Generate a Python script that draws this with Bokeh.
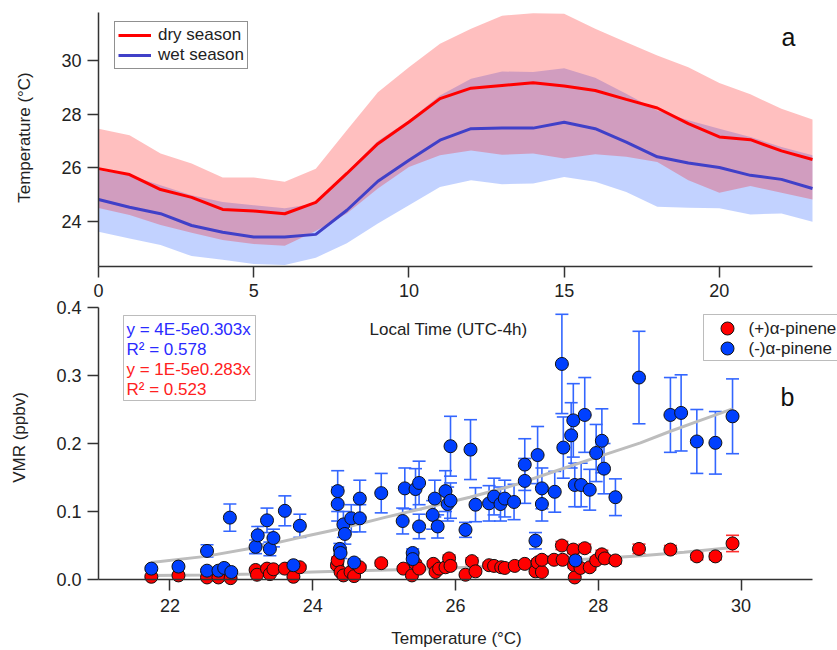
import math
from bokeh.plotting import figure
from bokeh.models import (Range1d, LinearAxis, FixedTicker, ColumnDataSource, Whisker,
                          TeeHead, Legend, LegendItem, Label, BoxAnnotation, NumeralTickFormatter)
from bokeh.embed import file_html
from bokeh.resources import INLINE

# ---------------- data: panel a (diurnal temperature) ----------------
hours = list(range(24))
dry_mean = [25.97, 25.75, 25.19, 24.90, 24.45, 24.39, 24.29, 24.71, 25.79, 26.90, 27.71, 28.58,
            28.97, 29.07, 29.17, 29.05, 28.88, 28.55, 28.23, 27.65, 27.15, 27.05, 26.63, 26.31]
dry_upper = [27.46, 27.21, 26.53, 26.16, 25.64, 25.64, 25.48, 25.97, 27.40, 28.82, 29.75, 30.62,
             31.18, 31.67, 31.76, 31.74, 31.18, 30.68, 30.19, 29.75, 29.16, 28.74, 28.20, 27.80]
dry_lower = [24.50, 24.24, 23.87, 23.58, 23.31, 23.16, 23.10, 23.65, 24.30, 25.23, 26.03, 26.47,
             26.65, 26.49, 26.53, 26.35, 26.51, 26.41, 26.22, 25.54, 25.07, 25.32, 25.07, 24.82]
wet_mean = [24.82, 24.53, 24.29, 23.85, 23.60, 23.42, 23.42, 23.52, 24.42, 25.50, 26.28, 27.03,
            27.46, 27.48, 27.48, 27.70, 27.46, 26.96, 26.41, 26.18, 26.01, 25.72, 25.57, 25.23]
wet_upper = [25.91, 25.72, 25.35, 24.98, 24.73, 24.61, 24.49, 24.67, 25.85, 27.00, 27.77, 28.70,
             29.32, 29.59, 29.57, 29.71, 29.36, 28.76, 28.14, 27.77, 27.46, 27.15, 26.78, 26.47]
wet_lower = [23.62, 23.37, 23.12, 22.71, 22.57, 22.42, 22.38, 22.65, 23.19, 23.93, 24.61, 25.29,
             25.54, 25.39, 25.42, 25.66, 25.48, 25.10, 24.55, 24.51, 24.49, 24.26, 24.30, 23.99]

# ---------------- data: panel b (VMR vs temperature) ----------------
minus_T = [21.74, 22.12, 22.52, 22.52, 22.68, 22.76, 22.84, 22.86, 23.20, 23.23, 23.36, 23.40,
           23.45, 23.61, 23.73, 23.82, 24.35, 24.35, 24.38, 24.39, 24.43, 24.45, 24.54, 24.58,
           24.66, 24.66, 24.96, 25.26, 25.29, 25.40, 25.40, 25.44, 25.49, 25.49, 25.68, 25.71,
           25.75, 25.86, 25.89, 25.93, 25.93, 26.14, 26.21, 26.28, 26.47, 26.54, 26.63, 26.69,
           26.82, 26.97, 26.97, 27.12, 27.15, 27.21, 27.21, 27.39, 27.49, 27.51, 27.62, 27.65,
           27.67, 27.68, 27.76, 27.81, 27.88, 27.97, 28.05, 28.08, 28.24, 28.57, 29.01, 29.16,
           29.38, 29.64, 29.88]
minus_vmr = [0.016, 0.019, 0.042, 0.013, 0.013, 0.017, 0.091, 0.011, 0.048, 0.065, 0.087, 0.045,
             0.061, 0.101, 0.021, 0.079, 0.130, 0.111, 0.045, 0.039, 0.081, 0.067, 0.090, 0.025,
             0.090, 0.119, 0.127, 0.086, 0.134, 0.039, 0.030, 0.133, 0.142, 0.078, 0.095, 0.119,
             0.078, 0.130, 0.111, 0.116, 0.196, 0.073, 0.191, 0.110, 0.112, 0.122, 0.111, 0.119,
             0.114, 0.169, 0.145, 0.057, 0.183, 0.134, 0.111, 0.129, 0.317, 0.194, 0.212, 0.234,
             0.139, 0.028, 0.139, 0.242, 0.132, 0.186, 0.204, 0.163, 0.121, 0.297, 0.242, 0.245,
             0.203, 0.201, 0.240]
minus_err = [0.002, 0.002, 0.009, 0.002, 0.002, 0.002, 0.020, 0.002, 0.010, 0.013, 0.018, 0.010,
             0.013, 0.022, 0.003, 0.017, 0.030, 0.025, 0.008, 0.008, 0.019, 0.015, 0.020, 0.005,
             0.020, 0.027, 0.029, 0.019, 0.030, 0.006, 0.005, 0.030, 0.032, 0.018, 0.021, 0.027,
             0.017, 0.030, 0.025, 0.026, 0.044, 0.011, 0.044, 0.025, 0.026, 0.027, 0.025, 0.027,
             0.026, 0.038, 0.033, 0.012, 0.042, 0.030, 0.025, 0.030, 0.073, 0.045, 0.048, 0.054,
             0.032, 0.005, 0.032, 0.055, 0.030, 0.042, 0.047, 0.037, 0.027, 0.068, 0.055, 0.056,
             0.047, 0.046, 0.055]

plus_T = [21.74, 22.12, 22.52, 22.68, 22.85, 23.20, 23.22, 23.36, 23.40, 23.45, 23.61, 23.73,
          23.82, 24.34, 24.35, 24.39, 24.43, 24.53, 24.58, 24.66, 24.96, 25.27, 25.39, 25.44,
          25.49, 25.69, 25.72, 25.77, 25.86, 25.91, 25.93, 26.14, 26.23, 26.28, 26.47, 26.54,
          26.64, 26.69, 26.83, 26.97, 27.12, 27.15, 27.21, 27.21, 27.38, 27.49, 27.50, 27.65,
          27.66, 27.67, 27.75, 27.81, 27.88, 27.97, 28.05, 28.09, 28.24, 28.57, 29.01, 29.38,
          29.64, 29.88]
plus_vmr = [0.004, 0.006, 0.003, 0.003, 0.002, 0.014, 0.007, 0.016, 0.008, 0.015, 0.016, 0.004,
            0.018, 0.021, 0.028, 0.011, 0.006, 0.011, 0.005, 0.018, 0.024, 0.016, 0.006, 0.023,
            0.016, 0.023, 0.011, 0.016, 0.018, 0.031, 0.020, 0.007, 0.027, 0.012, 0.021, 0.020,
            0.018, 0.017, 0.020, 0.023, 0.012, 0.025, 0.011, 0.029, 0.029, 0.050, 0.029, 0.044,
            0.021, 0.003, 0.017, 0.046, 0.018, 0.028, 0.037, 0.031, 0.028, 0.045, 0.044, 0.034,
            0.034, 0.053]
plus_err = [0.002, 0.002, 0.002, 0.002, 0.002, 0.003, 0.002, 0.003, 0.002, 0.003, 0.003, 0.002,
            0.003, 0.004, 0.005, 0.003, 0.002, 0.003, 0.002, 0.003, 0.004, 0.003, 0.002, 0.004,
            0.003, 0.004, 0.003, 0.003, 0.003, 0.005, 0.004, 0.002, 0.005, 0.003, 0.004, 0.004,
            0.003, 0.003, 0.004, 0.004, 0.003, 0.005, 0.003, 0.005, 0.005, 0.006, 0.005, 0.006,
            0.004, 0.002, 0.004, 0.006, 0.004, 0.005, 0.006, 0.005, 0.005, 0.007, 0.006, 0.005,
            0.005, 0.012]

# trend lines as drawn in the original figure
fit_minus_T = [21.74, 22.50, 23.20, 23.83, 24.40, 25.00, 25.60, 26.20, 26.80, 27.33, 27.90, 28.59,
               29.01, 29.40, 29.88]
fit_minus_vmr = [0.025, 0.034, 0.047, 0.062, 0.075, 0.091, 0.106, 0.121, 0.138, 0.157, 0.177,
                 0.201, 0.218, 0.233, 0.251]
fit_plus_T = [21.74, 22.50, 23.20, 24.00, 24.60, 25.20, 25.80, 26.40, 27.00, 27.50, 28.00, 28.60,
              29.20, 29.88]
fit_plus_vmr = [0.006, 0.0065, 0.008, 0.011, 0.013, 0.0145, 0.016, 0.019, 0.023, 0.028, 0.031,
                0.035, 0.040, 0.047]

time_ticks = [0, 5, 10, 15, 20]
temp_ticks = [24, 26, 28, 30]
tempb_ticks = [22, 24, 26, 28, 30]
vmr_ticks = [0.0, 0.1, 0.2, 0.3, 0.4]
series_labels = ["(+)α-pinene", "(-)α-pinene"]

# ---------------- layout geometry (pixels; the frame covers the whole canvas) ----------------
W, H = 837, 650
AXL, AXR = 98, 812                # pixel columns where the axes start / end
Y_VMR0 = 579                      # pixel row of VMR = 0 (panel b x-axis)
Y_TIME_AX = 266                   # pixel row of panel a x-axis
Y_TOP = 12                        # top of panel a y-axis
VMR_PX = 272.0 / 0.4              # px per ppbv
TB_PX = (AXR - AXL) / 10.0        # px per degC (panel b, 21..31)
TH_PX = (AXR - AXL) / 23.0        # px per hour (panel a, 0..23)
TEMP_PX = 161.0 / 6.0             # px per degC (panel a)
Y_TEMP30 = 60                     # pixel row of 30 degC

def dx(px):
    return 21 + (px - AXL) / TB_PX

def dy(py):
    return (Y_VMR0 - py) / VMR_PX

def th(px):
    return (px - AXL) / TH_PX

def tp(py):
    return 30 - (py - Y_TEMP30) / TEMP_PX

FONT = "Liberation Sans"
AX_COLOR = "#333333"
TXT = "#222222"

p = figure(width=W, height=H, output_backend="svg", toolbar_location=None,
           x_range=Range1d(dx(0), dx(W)), y_range=Range1d(dy(H), dy(0)),
           x_axis_location=None, y_axis_location=None,
           min_border_left=0, min_border_right=0, min_border_top=0,
           min_border_bottom=0, outline_line_color=None)
p.grid.visible = False
p.extra_x_ranges = {"time": Range1d(th(0), th(W))}
p.extra_y_ranges = {"temp": Range1d(tp(H), tp(0))}

def style_axis(ax):
    ax.major_label_text_font = FONT
    ax.major_label_text_font_size = "18px"
    ax.major_label_text_color = TXT
    ax.axis_line_color = AX_COLOR
    ax.axis_line_width = 1.5
    ax.major_tick_line_color = AX_COLOR
    ax.major_tick_line_width = 1.5
    ax.major_tick_out = 11
    ax.major_tick_in = 0
    ax.minor_tick_out = 0
    ax.minor_tick_in = 0
    ax.major_label_standoff = 6

# panel b axes
xb = LinearAxis(fixed_location=0, bounds=(21, 31),
                ticker=FixedTicker(ticks=tempb_ticks, minor_ticks=[]))
style_axis(xb)
xb.major_label_standoff = 8
p.add_layout(xb, "below")
yb = LinearAxis(fixed_location=21, bounds=(0, 0.4),
                ticker=FixedTicker(ticks=vmr_ticks, minor_ticks=[]),
                formatter=NumeralTickFormatter(format="0.0"))
style_axis(yb)
p.add_layout(yb, "left")

# panel a axes
xa = LinearAxis(x_range_name="time", y_range_name="temp", fixed_location=tp(Y_TIME_AX),
                bounds=(0, 23), ticker=FixedTicker(ticks=time_ticks, minor_ticks=[]))
style_axis(xa)
p.add_layout(xa, "below")
ya = LinearAxis(x_range_name="time", y_range_name="temp", fixed_location=0,
                bounds=(tp(Y_TIME_AX), tp(Y_TOP)),
                ticker=FixedTicker(ticks=temp_ticks, minor_ticks=[]))
style_axis(ya)
p.add_layout(ya, "left")

# axis titles
def title(text, px, py, angle=0.0):
    p.add_layout(Label(x=dx(px), y=dy(py), text=text, angle=angle, text_font=FONT,
                       text_font_size="17px", text_color=TXT, text_align="center",
                       text_baseline="middle"))

title("Temperature (°C)", 24, 137, math.pi / 2)
title("Local Time (UTC-4h)", 448, 329)
title("VMR (ppbv)", 19, 437, math.pi / 2)
title("Temperature (°C)", 456, 638)

# ---------------- panel a glyphs ----------------
p.varea(x=hours, y1=wet_lower, y2=wet_upper, fill_color="#0044ff", fill_alpha=0.24,
        x_range_name="time", y_range_name="temp")
p.varea(x=hours, y1=dry_lower, y2=dry_upper, fill_color="#ff0000", fill_alpha=0.25,
        x_range_name="time", y_range_name="temp")
dry_r = p.line(hours, dry_mean, line_color="#ff0000", line_width=3,
               x_range_name="time", y_range_name="temp")
wet_r = p.line(hours, wet_mean, line_color="#4040c8", line_width=3,
               x_range_name="time", y_range_name="temp")

leg_a = Legend(items=[LegendItem(label="dry season", renderers=[dry_r]),
                      LegendItem(label="wet season", renderers=[wet_r])],
               location=(114, H - 69), orientation="vertical",
               label_text_font=FONT, label_text_font_size="17px", label_text_color=TXT,
               glyph_width=33, glyph_height=18, label_height=18, label_standoff=7,
               spacing=0, padding=3, margin=0, border_line_color=TXT,
               border_line_width=1, background_fill_color="white", background_fill_alpha=1)
p.add_layout(leg_a)

# ---------------- panel b glyphs ----------------
src_p = ColumnDataSource(dict(x=plus_T, y=plus_vmr,
                              lo=[v - e for v, e in zip(plus_vmr, plus_err)],
                              hi=[v + e for v, e in zip(plus_vmr, plus_err)]))
src_m = ColumnDataSource(dict(x=minus_T, y=minus_vmr,
                              lo=[v - e for v, e in zip(minus_vmr, minus_err)],
                              hi=[v + e for v, e in zip(minus_vmr, minus_err)]))

for src, col in ((src_p, "#ff3030"), (src_m, "#3366ff")):
    w = Whisker(source=src, base="x", lower="lo", upper="hi", dimension="height",
                line_color=col, line_width=1.6, level="underlay",
                upper_head=TeeHead(size=13, line_color=col, line_width=1.6),
                lower_head=TeeHead(size=13, line_color=col, line_width=1.6))
    p.add_layout(w)

p.line(fit_plus_T, fit_plus_vmr, line_color="#bdbdbd", line_width=3)
p.line(fit_minus_T, fit_minus_vmr, line_color="#bdbdbd", line_width=3)

RED_FILL, BLUE_FILL = "#ff0000", "#0040ff"
p.scatter("x", "y", source=src_p, size=13, marker="circle",
          fill_color=RED_FILL, line_color="#111111", line_width=1)
p.scatter("x", "y", source=src_m, size=13, marker="circle",
          fill_color=BLUE_FILL, line_color="#111111", line_width=1)

# legend of panel b (box runs past the right edge, as in the original)
p.add_layout(BoxAnnotation(left=dx(703), right=dx(W + 20), top=dy(314), bottom=dy(360),
                           fill_color="white", fill_alpha=1, line_color=TXT,
                           line_width=1, level="annotation"))
key_rows = [328, 348]
p.scatter(x=[dx(727)] * 2, y=[dy(r) for r in key_rows], size=13, marker="circle",
          fill_color=[RED_FILL, BLUE_FILL], line_color="#111111", line_width=1,
          level="overlay")
for lab, r in zip(series_labels, key_rows):
    p.add_layout(Label(x=dx(748), y=dy(r), text=lab, text_font=FONT, text_font_size="17px",
                       text_color=TXT, text_align="left", text_baseline="middle"))

# equation box
p.add_layout(BoxAnnotation(left=dx(123), right=dx(255), top=dy(315), bottom=dy(400),
                           fill_color="white", fill_alpha=1, line_color=TXT,
                           line_width=1, level="annotation"))
eq_lines = [("y = 4E-5e0.303x", "#2a2aff", 329), ("R² = 0.578", "#2a2aff", 349),
            ("y = 1E-5e0.283x", "#ff2020", 369), ("R² = 0.523", "#ff2020", 389)]
for txt, col, py in eq_lines:
    p.add_layout(Label(x=dx(126), y=dy(py), text=txt, text_color=col, text_font=FONT,
                       text_font_size="17px", text_baseline="middle", text_align="left"))

# panel letters
p.add_layout(Label(x=dx(788), y=dy(36), text="a", text_font=FONT, text_font_size="25px",
                   text_color="#111111", text_align="center", text_baseline="middle"))
p.add_layout(Label(x=dx(787), y=dy(396), text="b", text_font=FONT, text_font_size="25px",
                   text_color="#111111", text_align="center", text_baseline="middle"))

open("out.html", "w").write(file_html(p, INLINE))
